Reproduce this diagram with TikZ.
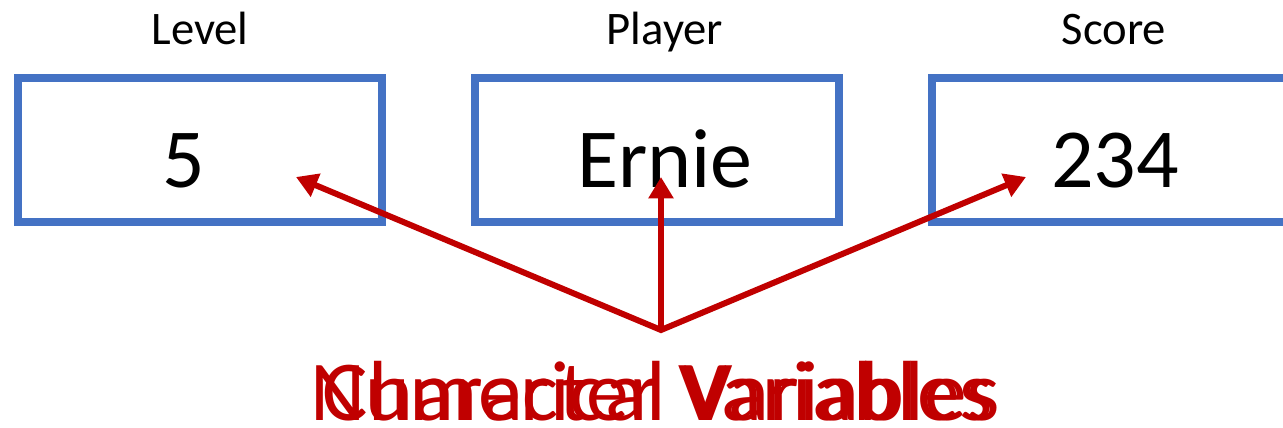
\documentclass[tikz,border=0pt]{standalone}
\usepackage{fontspec}
\setmainfont{Carlito}
\usepackage{tikz}
\usetikzlibrary{positioning, arrows.meta}
\usepackage{color}
\definecolor{myboxblue}{RGB}{68, 114, 196}
\definecolor{myarrowred}{RGB}{192, 0, 0}

\begin{document}
\begin{tikzpicture}[x = 0.75pt, y = -0.75pt, varbox/.style={draw = myboxblue, line width = 6pt, rectangle, minimum width = 273pt, minimum height = 108pt}, varname/.style={inner sep = 0, text depth = 0, font = \fontsize{35}{42}\selectfont}, value/.style={anchor = base, inner sep = 0, font = \fontsize{63}{75}\selectfont}, kind/.style={anchor = base, inner sep = 0, text = myarrowred, font = \fontsize{64}{78}\selectfont}, pointer/.style={draw = myarrowred, line width = 4.5pt, line join = miter}]
  \useasboundingbox (0, 0) rectangle (1283, 428);

  % nodes
  \node [varbox] (level) at (200, 150) {};
  \node [varbox] (player) at (657, 150) {};
  \node [varbox] (score) at (1114, 150) {};

  \node [varname][above = 22pt of level] (level-name) {Level};
  \node [varname][above = 22pt of player, xshift = 6pt] (player-name) {Player};
  \node [varname][above = 22pt of score] (score-name) {Score};

  \node [value] (level-val) at (184, 187) {5};
  \node [value] (player-val) at (665, 187) {Ernie};
  \node [value] (score-val) at (1115, 187) {234};

  \node [kind] (num-label) at (655, 420) {Numerical Variables};
  \node [kind] (chr-label) at (658, 420) {Character Variables};

  % edges
  \coordinate (src) at (661, 330);
  \coordinate (level-tip) at (296, 177);
  \coordinate (player-tip) at (661, 177);
  \coordinate (score-tip) at (1026, 177);
  \draw [pointer] [{Triangle[length = 16pt, width = 18pt]}-{Triangle[length = 16pt, width = 18pt]}] (level-tip) -- (src) -- (score-tip);
  \draw [pointer] [-{Triangle[length = 16pt, width = 18pt]}] (src) -- (player-tip);
\end{tikzpicture}
\end{document}
